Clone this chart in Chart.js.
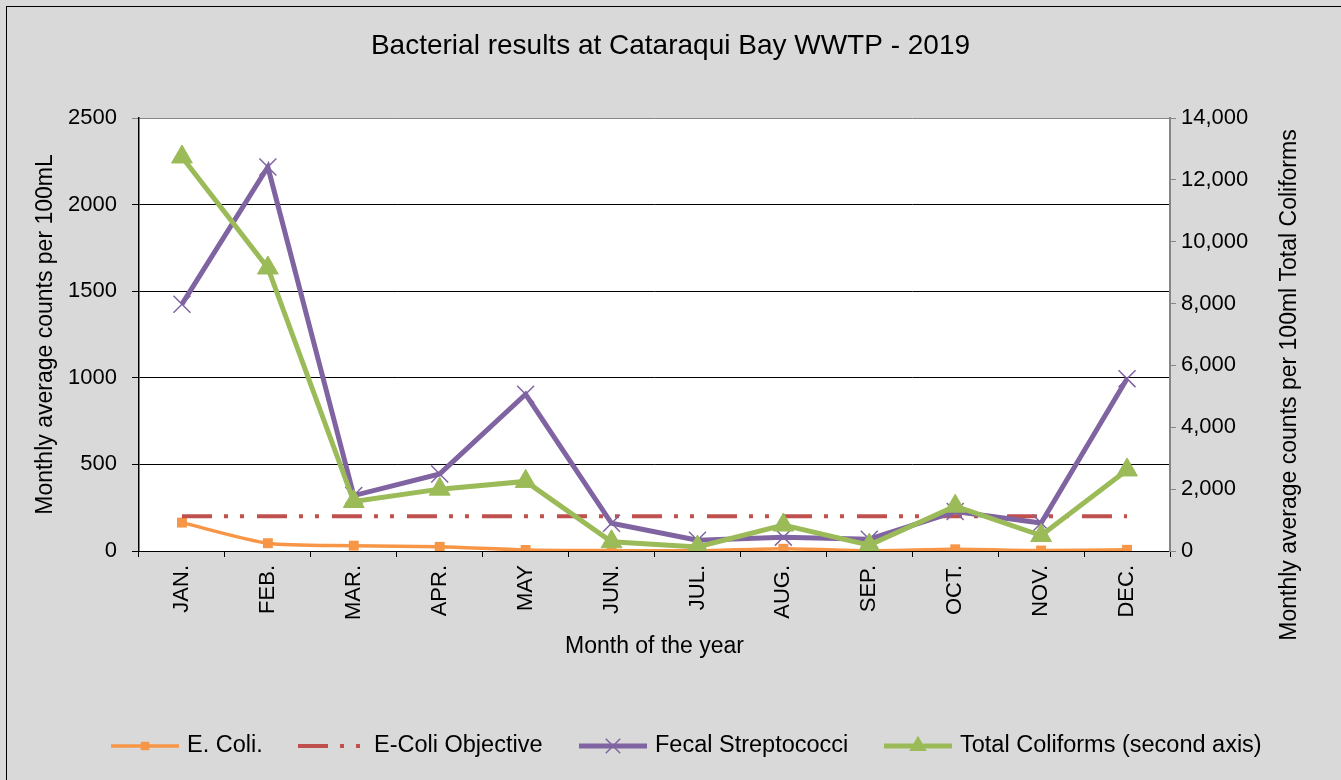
<!DOCTYPE html>
<html>
<head>
<meta charset="utf-8">
<script src="https://cdn.jsdelivr.net/npm/chart.js@4.4.0/dist/chart.umd.min.js"></script>
<style>
  html, body { margin: 0; padding: 0; background: #D9D9D9; }
  canvas { display: block; }
</style>
</head>
<body>
<canvas id="bactChart" width="1341" height="780"></canvas>
<script>
// data
const months = ["JAN.", "FEB.", "MAR.", "APR.", "MAY", "JUN.", "JUL.", "AUG.", "SEP.", "OCT.", "NOV.", "DEC."];
const eColi = [164, 45, 31, 24, 6, 2, 1, 13, 2, 10, 3, 7];
const eColiObjective = [200, 200, 200, 200, 200, 200, 200, 200, 200, 200, 200, 200];
const fecalStrep = [1425, 2217, 320, 445, 905, 160, 62, 80, 68, 228, 162, 995];
const totalColiforms = [12740, 9150, 1600, 2000, 2250, 300, 130, 840, 190, 1450, 500, 2620];

const leftTicks = [0, 500, 1000, 1500, 2000, 2500];
const rightTicks = [0, 2000, 4000, 6000, 8000, 10000, 12000, 14000];

const FONT = '"Liberation Sans", Arial, sans-serif';
Chart.defaults.font.family = FONT;
Chart.defaults.color = "#000";

// layout of the plot box
const PLOT_LEFT = 139, PLOT_RIGHT = 1170, PLOT_BOTTOM = 551;

// legend item start x
const legendX = [111, 298, 579, 884];
const LEGEND_Y = 746;

function drawMarker(ctx, style, x, y, r, color, lw) {
    ctx.save();
    ctx.setLineDash([]);
    ctx.fillStyle = color;
    ctx.strokeStyle = color;
    ctx.lineWidth = lw;
    ctx.beginPath();
    if (style === "rect") {
        let s = r * Math.SQRT1_2;
        ctx.rect(x - s, y - s, 2 * s, 2 * s);
        ctx.fill();
    } else if (style === "crossRot") {
        let o = r * Math.SQRT1_2;
        ctx.moveTo(x - o, y - o); ctx.lineTo(x + o, y + o);
        ctx.moveTo(x + o, y - o); ctx.lineTo(x - o, y + o);
        ctx.stroke();
    } else if (style === "triangle") {
        ctx.moveTo(x, y - r);
        ctx.lineTo(x + r * 0.866, y + r / 2);
        ctx.lineTo(x - r * 0.866, y + r / 2);
        ctx.closePath();
        ctx.fill();
    }
    ctx.restore();
}

const backdrop = {
    id: "backdrop",
    beforeDraw(chart) {
        const { ctx, chartArea: a } = chart;
        ctx.save();
        ctx.fillStyle = "#D9D9D9";
        ctx.fillRect(0, 0, chart.width, chart.height);
        ctx.strokeStyle = "#000";
        ctx.lineWidth = 1;
        ctx.strokeRect(6.5, 6.5, chart.width, chart.height);
        ctx.fillStyle = "#fff";
        ctx.fillRect(a.left, a.top, a.right - a.left, a.bottom - a.top);
        ctx.restore();
    },
    afterDraw(chart) {
        const ctx = chart.ctx;
        // right axis title, reading bottom to top
        ctx.save();
        ctx.translate(1290, 385);
        ctx.rotate(-Math.PI / 2);
        ctx.font = "23px " + FONT;
        ctx.fillStyle = "#000";
        ctx.textAlign = "center";
        ctx.textBaseline = "middle";
        ctx.fillText("Monthly average counts per 100ml Total Coliforms", 0, 0);
        ctx.restore();

        // legend: line sample with marker, then label
        chart.data.datasets.forEach((ds, i) => {
            let x0 = legendX[i];
            ctx.save();
            ctx.strokeStyle = ds.borderColor;
            ctx.lineWidth = ds.borderWidth;
            ctx.setLineDash(ds.borderDash || []);
            ctx.beginPath();
            ctx.moveTo(x0, LEGEND_Y);
            ctx.lineTo(x0 + 68, LEGEND_Y);
            ctx.stroke();
            ctx.restore();
            if (ds.pointRadius > 0) {
                drawMarker(ctx, ds.pointStyle, x0 + 34, LEGEND_Y, ds.pointRadius * 0.85, ds.borderColor, ds.pointBorderWidth || 1);
            }
            ctx.save();
            ctx.font = "23.5px " + FONT;
            ctx.fillStyle = "#000";
            ctx.textBaseline = "middle";
            ctx.fillText(ds.label, x0 + 76, LEGEND_Y);
            ctx.restore();
        });
    }
};

new Chart(document.getElementById("bactChart"), {
    type: "line",
    data: {
        labels: months,
        datasets: [
            {
                label: "E. Coli.",
                data: eColi,
                yAxisID: "y",
                borderColor: "#F79646",
                backgroundColor: "#F79646",
                borderWidth: 3.5,
                pointStyle: "rect",
                pointRadius: 7,
                pointBorderWidth: 0,
                tension: 0.25,
                order: 3
            },
            {
                label: "E-Coli Objective",
                data: eColiObjective,
                yAxisID: "y",
                borderColor: "#C0504D",
                backgroundColor: "#C0504D",
                borderWidth: 4,
                borderDash: [30, 12, 4, 12, 4, 13],
                pointRadius: 0,
                order: 2
            },
            {
                label: "Fecal Streptococci",
                data: fecalStrep,
                yAxisID: "y",
                borderColor: "#8064A2",
                backgroundColor: "#8064A2",
                borderWidth: 5,
                pointStyle: "crossRot",
                pointRadius: 12,
                pointBorderWidth: 1.5,
                order: 1
            },
            {
                label: "Total Coliforms (second axis)",
                data: totalColiforms,
                yAxisID: "y2",
                borderColor: "#9BBB59",
                backgroundColor: "#9BBB59",
                borderWidth: 5,
                pointStyle: "triangle",
                pointRadius: 12,
                pointBorderWidth: 1,
                order: 0
            }
        ]
    },
    options: {
        responsive: false,
        animation: false,
        layout: { padding: 0 },
        plugins: {
            legend: { display: false },
            tooltip: { enabled: false },
            title: {
                display: true,
                text: "Bacterial results at Cataraqui Bay WWTP - 2019",
                color: "#000",
                font: { size: 28, weight: "normal" },
                padding: { top: 29, bottom: 55.4 }
            }
        },
        scales: {
            x: {
                offset: true,
                grid: { offset: true, drawOnChartArea: false, color: "#000", tickLength: 6 },
                border: { color: "#000", width: 1 },
                ticks: { autoSkip: false, maxRotation: 90, minRotation: 90, padding: 8, font: { size: 22 } },
                title: {
                    display: true,
                    text: "Month of the year",
                    font: { size: 23 },
                    padding: { top: 0, bottom: 120 }
                },
                afterFit(s) { s.height = 780 - PLOT_BOTTOM; }
            },
            y: {
                position: "left",
                min: 0,
                max: 2500,
                afterBuildTicks(s) { s.ticks = leftTicks.map(v => ({ value: v })); },
                grid: {
                    color: c => (c.tick && c.tick.value === 2500 ? "#868686" : "#000"),
                    lineWidth: 1,
                    tickLength: 7
                },
                border: { color: "#000", width: 1.5 },
                ticks: { padding: 15, font: { size: 22 }, callback: v => String(v) },
                title: {
                    display: true,
                    text: "Monthly average counts per 100mL",
                    font: { size: 23 },
                    padding: { top: 32, bottom: 0 }
                },
                afterFit(s) { s.width = PLOT_LEFT; }
            },
            y2: {
                position: "right",
                min: 0,
                max: 14000,
                afterBuildTicks(s) { s.ticks = rightTicks.map(v => ({ value: v })); },
                grid: { drawOnChartArea: false, color: "#868686", tickLength: 6 },
                border: { color: "#868686", width: 2 },
                ticks: { padding: 5, font: { size: 22 }, callback: v => Number(v).toLocaleString("en-US") },
                afterFit(s) { s.width = 1341 - PLOT_RIGHT; }
            }
        }
    },
    plugins: [backdrop]
});
</script>
</body>
</html>
